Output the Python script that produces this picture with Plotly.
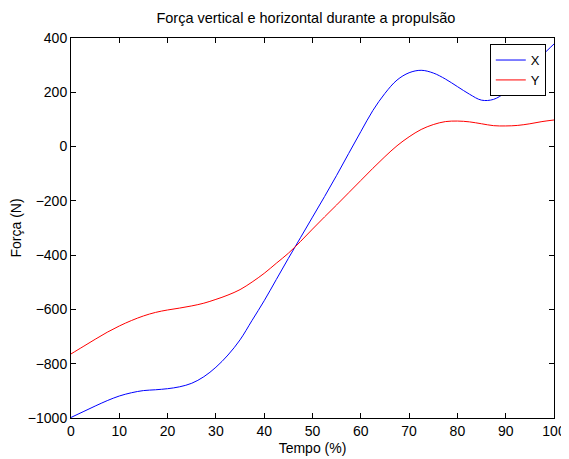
import plotly.graph_objects as go

# Tempo (%) and force readings (N)
tempo = [0, 2.5, 5, 7.5, 10, 12.5, 15, 17.5, 20, 22.5, 25, 27.5, 30, 32.5, 35, 37.5, 40,
         42.5, 45, 47.5, 50, 52.5, 55, 57.5, 60, 62.5, 65, 67.5, 70, 72.5, 75, 77.5, 80,
         82.5, 85, 87.5, 90, 92.5, 95, 97.5, 100]
forca_x = [-998, -977, -956, -936, -919, -907, -899, -896, -892, -885, -872, -848, -813,
           -768, -712, -640, -568, -490, -412, -336, -260, -184, -106, -25, 55, 133, 196,
           245, 272, 281, 271, 249, 221, 193, 171, 174, 200, 240, 288, 335, 378]
forca_y = [-764, -737, -710, -684, -661, -641, -624, -611, -602, -595, -587, -577, -563,
           -547, -527, -499, -467, -430, -393, -350, -304, -259, -215, -170, -125, -80, -37,
           3, 36, 63, 81, 92, 94, 91, 84, 77, 76, 78, 84, 92, 98]

FONT = dict(family="Liberation Sans, Arial", size=13, color="black")

fig = go.Figure()
fig.add_trace(go.Scatter(x=tempo, y=forca_x, mode="lines", name="X",
                         line=dict(color="#0000FF", width=1, shape="spline", smoothing=1)))
fig.add_trace(go.Scatter(x=tempo, y=forca_y, mode="lines", name="Y",
                         line=dict(color="#FF0000", width=1, shape="spline", smoothing=1)))

# page body has an 8px margin, so the figure is sized 8px smaller than the window
fig.update_layout(
    width=561, height=451,
    font=FONT,
    title=dict(text="Força vertical e horizontal durante a propulsão",
               x=0.531, xanchor="center", y=0.978, yanchor="middle",
               font=dict(size=14.5)),
    plot_bgcolor="white", paper_bgcolor="white",
    margin=dict(l=63, r=15, t=30, b=41),
    showlegend=True,
    legend=dict(x=0.983, xanchor="right", y=0.984, yanchor="top",
                bgcolor="white", bordercolor="black", borderwidth=1,
                font=dict(size=13), tracegroupgap=0, itemwidth=30),
)
fig.update_xaxes(range=[0, 100], tickvals=list(range(0, 101, 10)),
                 ticks="inside", ticklen=5, tickcolor="black", tickfont=dict(size=14),
                 ticklabelstandoff=0,
                 showline=True, linecolor="black", linewidth=1, mirror="ticks",
                 showgrid=False, zeroline=False, automargin=False,
                 title=dict(text="Tempo (%)", standoff=5, font=dict(size=14)))
fig.update_yaxes(range=[-1000, 400], tickvals=list(range(-1000, 401, 200)),
                 ticks="inside", ticklen=5, tickcolor="black", tickfont=dict(size=14),
                 showline=True, linecolor="black", linewidth=1, mirror="ticks",
                 showgrid=False, zeroline=False, automargin=False,
                 title=dict(text="Força (N)", standoff=2, font=dict(size=14)))

fig.write_html("out.html")
